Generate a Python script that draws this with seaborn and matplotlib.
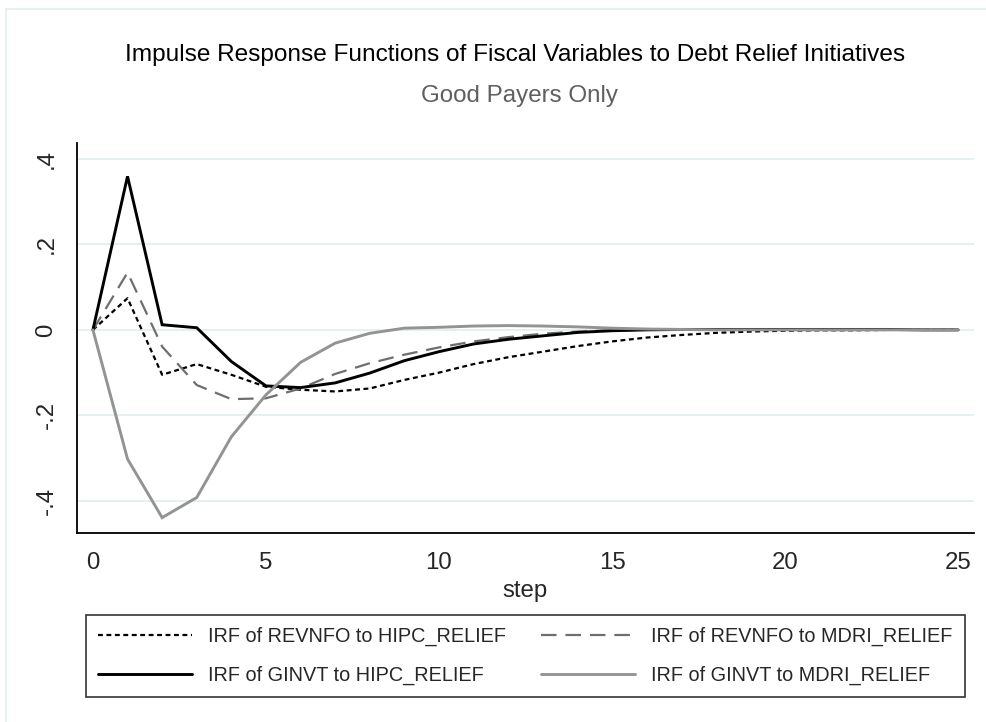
import numpy as np
import pandas as pd
import matplotlib
matplotlib.use("Agg")
import matplotlib.pyplot as plt
from matplotlib.lines import Line2D
import seaborn as sns

steps = list(range(26))
revnfo_hipc = [0, 0.074, -0.105, -0.080, -0.105, -0.133, -0.140, -0.144, -0.137, -0.117,
               -0.100, -0.080, -0.064, -0.051, -0.038, -0.027, -0.018, -0.012, -0.007, -0.004,
               -0.002, -0.001, -0.001, 0.0, 0.0, 0.0]
revnfo_mdri = [0, 0.134, -0.039, -0.129, -0.162, -0.160, -0.137, -0.103, -0.078, -0.058,
               -0.041, -0.027, -0.017, -0.009, -0.004, -0.001, 0.0, 0.0, 0.0, 0.0,
               0.0, 0.0, 0.0, 0.0, 0.0, 0.0]
ginvt_hipc = [0, 0.359, 0.012, 0.005, -0.074, -0.131, -0.135, -0.124, -0.101, -0.072,
              -0.051, -0.033, -0.022, -0.014, -0.006, -0.002, 0.0, 0.001, 0.001, 0.001,
              0.001, 0.001, 0.001, 0.001, 0.0, 0.0]
ginvt_mdri = [0, -0.302, -0.439, -0.392, -0.250, -0.152, -0.076, -0.031, -0.008, 0.004,
              0.006, 0.009, 0.010, 0.009, 0.007, 0.004, 0.002, 0.001, 0.0, 0.0,
              0.0, 0.0, 0.0, 0.0, 0.0, 0.0]

labels = ["IRF of REVNFO to HIPC_RELIEF", "IRF of REVNFO to MDRI_RELIEF",
          "IRF of GINVT to HIPC_RELIEF", "IRF of GINVT to MDRI_RELIEF"]
series = [revnfo_hipc, revnfo_mdri, ginvt_hipc, ginvt_mdri]
x_ticks = [0, 5, 10, 15, 20, 25]
y_ticks = [-0.4, -0.2, 0, 0.2, 0.4]
y_ticklabels = ["-.4", "-.2", "0", ".2", ".4"]

sns.set_style("white")
plt.rcParams['font.family'] = ['Liberation Sans', 'DejaVu Sans']

fig = plt.figure(figsize=(9.87, 7.22), dpi=100)
ax = fig.add_axes([77/987, 1-533/722, (974-77)/987, (533-143)/722])

grid_col = "#e6eff1"
styles = [
    dict(color="black", lw=1.6, dashes=(2.2, 1.6)),
    dict(color="#6e6e6e", lw=1.6, dashes=(7, 4)),
    dict(color="black", lw=2.1, dashes=None),
    dict(color="#939393", lw=2.1, dashes=None),
]

for yv in y_ticks:
    ax.axhline(yv, color=grid_col, lw=1.4, zorder=0)

handles = []
for vals, lab, st in zip(series, labels, styles):
    df = pd.DataFrame({"step": steps, "val": vals})
    sns.lineplot(data=df, x="step", y="val", ax=ax, color=st["color"], lw=st["lw"], zorder=3)
    line = ax.lines[-1]
    if st["dashes"] is not None:
        line.set_dashes(st["dashes"])
    line.set_solid_joinstyle("miter")
    h = Line2D([0], [0], color=st["color"], lw=st["lw"])
    if st["dashes"] is not None:
        h.set_dashes(st["dashes"])
    handles.append((h, lab))

ax.set_xlim(-0.46, 25.46)
ax.set_ylim(-0.475, 0.437)
ax.set_xticks(x_ticks)
ax.set_xticklabels([str(t) for t in x_ticks], fontsize=17.3)
ax.set_yticks(y_ticks)
ax.set_yticklabels(y_ticklabels, fontsize=17.3, rotation=90, va="center")
ax.tick_params(axis="both", direction="out", length=9, width=1.2, color="black", pad=5)
ax.set_xlabel("step", fontsize=17.3, labelpad=4)
ax.set_ylabel("")
for s in ["top", "right"]:
    ax.spines[s].set_visible(False)
for s in ["left", "bottom"]:
    ax.spines[s].set_color("black")
    ax.spines[s].set_linewidth(1.3)

fig.text(515/987, 1-55/722, "Impulse Response Functions of Fiscal Variables to Debt Relief Initiatives",
         ha="center", va="center", fontsize=17.6, color="black")
fig.text(520/987, 1-96/722, "Good Payers Only", ha="center", va="center", fontsize=17.4, color="#5f5f5f")

order = [0, 2, 1, 3]
leg = fig.legend([handles[i][0] for i in order], [handles[i][1] for i in order],
                 ncol=2, loc="center", bbox_to_anchor=((86+965)/2/987, 1-656/722),
                 fontsize=14.3, frameon=True, fancybox=False, handlelength=4.7,
                 handletextpad=0.85, columnspacing=1.75, labelspacing=1.0,
                 borderpad=0.6)
leg.get_frame().set_edgecolor("black")
leg.get_frame().set_linewidth(1.2)

# outer graph region border (top and left visible)
fig.add_artist(Line2D([6/987, 1.0], [1-9/722, 1-9/722], transform=fig.transFigure, color="#e4edf0", lw=1.2))
fig.add_artist(Line2D([6/987, 6/987], [0, 1-9/722], transform=fig.transFigure, color="#e4edf0", lw=1.2))

fig.savefig("out.png", dpi=100)
